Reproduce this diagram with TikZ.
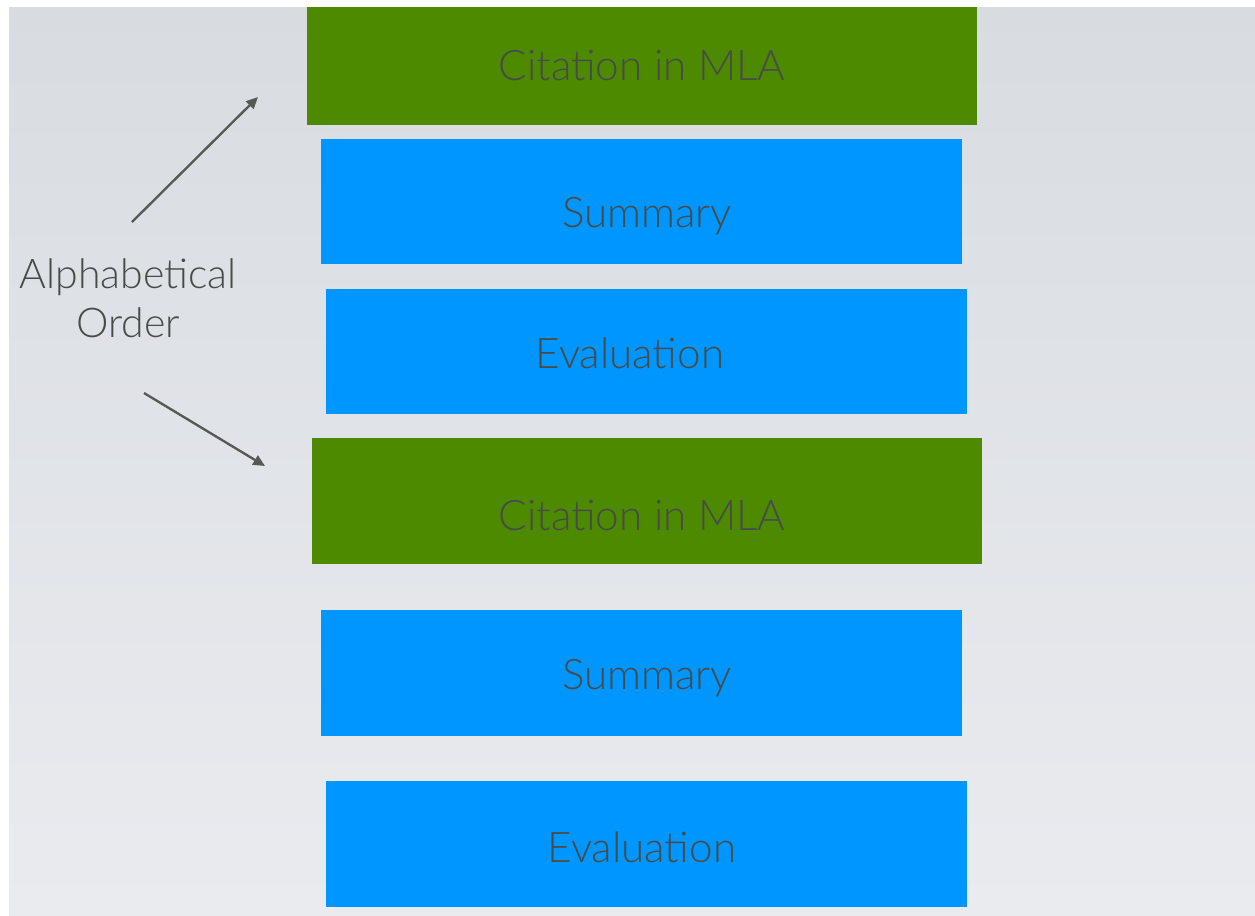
\documentclass[tikz,border=0pt]{standalone}
\usepackage{fontspec}
\setmainfont{Lato Light}
\usetikzlibrary{arrows.meta}
\definecolor{slidetop}{RGB}{216,220,225}
\definecolor{slidebottom}{RGB}{234,235,239}
\definecolor{mlagreen}{RGB}{78,138,0}
\definecolor{partblue}{RGB}{0,150,255}
\definecolor{inkgray}{RGB}{72,76,72}
\definecolor{arrowgray}{RGB}{85,90,85}
\tikzset{
	citebox/.style={fill=mlagreen, minimum width=20.1cm, minimum height=3.54cm, inner sep=0pt},
	partbox/.style={fill=partblue, minimum width=19.23cm, minimum height=3.77cm, inner sep=0pt},
	boxtext/.style={text=inkgray, font=\fontsize{36}{42}\selectfont},
	pointer/.style={-{Triangle[length=10pt,width=9pt]}, draw=arrowgray, fill=arrowgray, line width=2pt}
}
\begin{document}
\begin{tikzpicture}[x=0.03cm, y=-0.03cm]
	\useasboundingbox (0,0) rectangle (1255,915);
	\shade[top color=slidetop, bottom color=slidebottom] (9,7) rectangle (1255,915);

	\node[citebox] (cite1) at (642,66) {};
	\node[partbox] (sum1) at (641.5,201.5) {};
	\node[partbox] (eval1) at (646.5,351.5) {};
	\node[citebox, minimum height=3.78cm] (cite2) at (647,501) {};
	\node[partbox] (sum2) at (641.5,673) {};
	\node[partbox] (eval2) at (646.5,844) {};

	\node[boxtext] (cite1t) at (642,65) {Citation in MLA};
	\node[boxtext] (sum1t) at (647,216) {Summary};
	\node[boxtext] (eval1t) at (630,353) {Evaluation};
	\node[boxtext] (cite2t) at (642,515) {Citation in MLA};
	\node[boxtext] (sum2t) at (647,678) {Summary};
	\node[boxtext] (eval2t) at (642,847) {Evaluation};

	\node[text=inkgray, font=\fontsize{35}{42}\selectfont, align=center] (order) at (128,298) {Alphabetical\\Order};

	\coordinate (up0) at (132,222);
	\coordinate (up1) at (258,97);
	\coordinate (down0) at (144,393);
	\coordinate (down1) at (265,466);
	\draw[pointer] (up0) -- (up1);
	\draw[pointer] (down0) -- (down1);
\end{tikzpicture}
\end{document}
